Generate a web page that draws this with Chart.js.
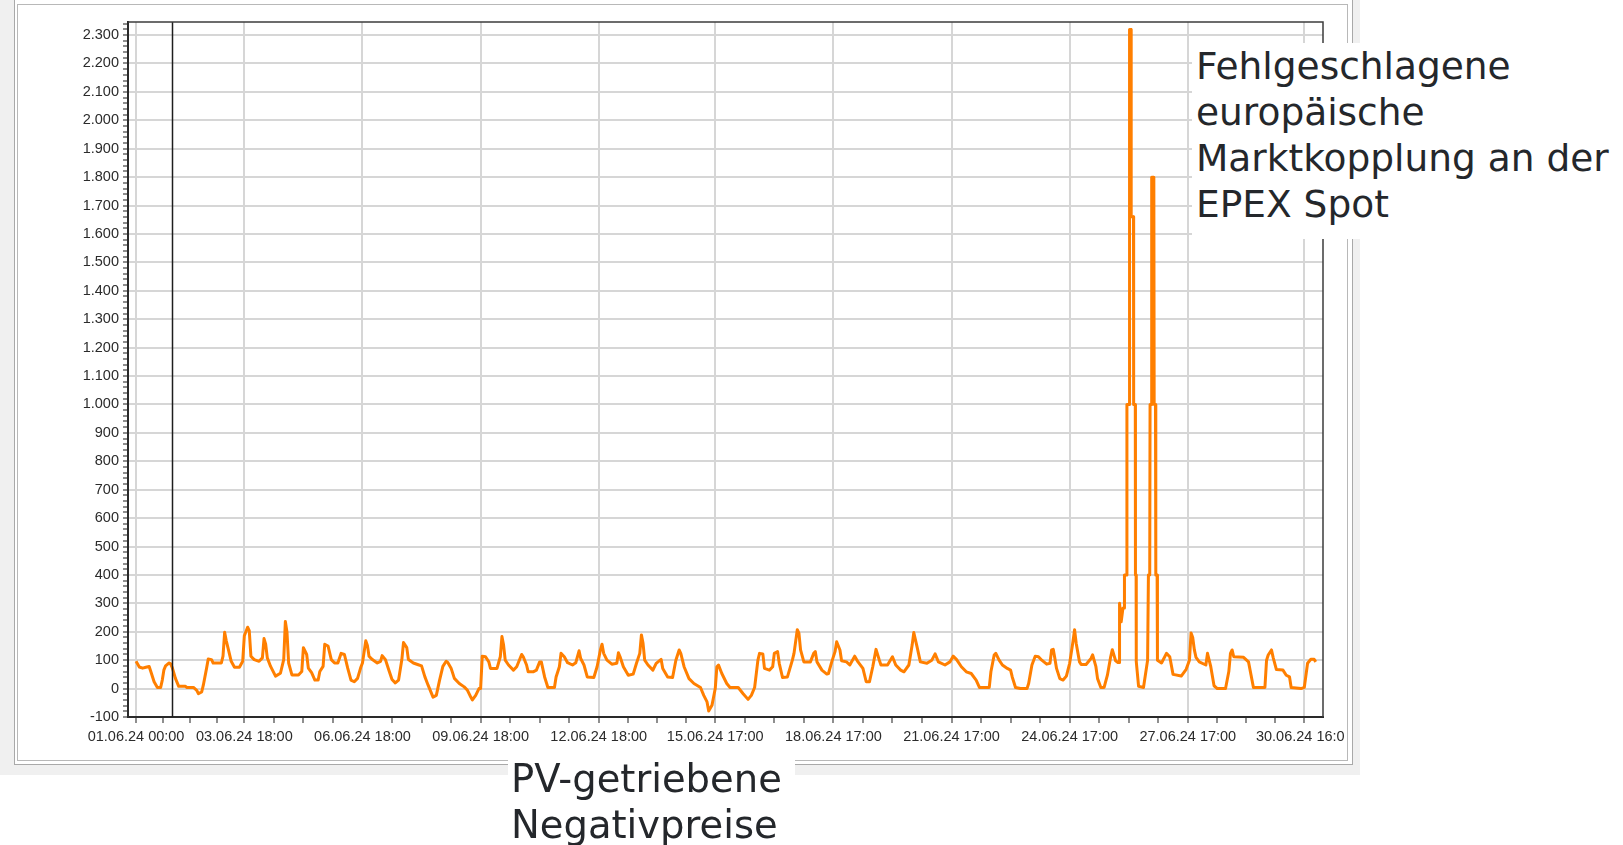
<!DOCTYPE html>
<html>
<head>
<meta charset="utf-8">
<script src="https://cdn.jsdelivr.net/npm/chart.js@4.4.1/dist/chart.umd.min.js"></script>
<style>
  html, body { margin: 0; padding: 0; background: #fff; }
  body { width: 1623px; height: 845px; position: relative; overflow: hidden; }
  .abs { position: absolute; }
  #win { left: 0; top: 0; width: 1360px; height: 775px; background: #f0f0f0; }
  #outer { left: 14px; top: 0; width: 1337px; height: 764px; background: #fff;
           border-left: 1px solid #a9a9a9; border-right: 1px solid #a9a9a9; border-bottom: 1px solid #a9a9a9; }
  #inner { left: 17px; top: 4px; width: 1329px; height: 755px; background: #fff; border: 1px solid #b8b8b8; }
  #c { left: 0; top: 0; }
  .note { background: #fff; color: #24272b; font-family: "DejaVu Sans", sans-serif;
          font-size: 37.5px; line-height: 46px; white-space: nowrap; }
  #noteRight { left: 1192px; top: 43px; width: 431px; height: 196px; }
  #noteRight div { position: absolute; left: 4px; top: 0; }
  #noteBottom { left: 508px; top: 758px; width: 287px; height: 87px; }
  #noteBottom div { position: absolute; left: 3px; top: -2px; font-size: 38.5px; }
</style>
</head>
<body>
<div id="win" class="abs"></div>
<div id="outer" class="abs"></div>
<div id="inner" class="abs"></div>
<canvas id="c" class="abs" width="1344" height="780"></canvas>
<div id="noteRight" class="abs note"><div>Fehlgeschlagene<br>europäische<br>Marktkopplung an der<br>EPEX Spot</div></div>
<div id="noteBottom" class="abs note"><div>PV-getriebene<br>Negativpreise</div></div>
<script>
// Stunden ab 01.06.24 00:00 und Preis (EUR/MWh)
const hours = [
  0, 2, 4, 6, 8, 9, 11, 13, 15, 16, 17, 18, 20, 21, 22, 24, 26, 30, 31, 35,
  37, 38, 40, 41, 43, 44, 46, 47, 52, 53, 54, 55, 56, 58, 60, 63, 65, 66, 68, 69,
  70, 72, 75, 77, 78, 79, 80, 82, 85, 88, 90, 91, 92, 93, 95, 99, 101, 102, 104, 105,
  107, 109, 111, 112, 114, 115, 117, 119, 121, 123, 125, 127, 129, 131, 133, 135, 137, 138, 140, 141,
  142, 144, 147, 149, 150, 152, 154, 156, 158, 160, 162, 163, 165, 166, 169, 172, 174, 176, 178, 181,
  183, 185, 187, 189, 190, 192, 194, 197, 200, 202, 204, 205, 207, 209, 210, 211, 213, 215, 216, 220,
  222, 223, 224, 225, 227, 230, 232, 235, 236, 238, 239, 242, 244, 246, 247, 249, 251, 255, 256, 258,
  259, 261, 263, 266, 268, 270, 271, 273, 275, 279, 281, 283, 284, 285, 287, 290, 293, 294, 295, 297,
  300, 303, 305, 307, 308, 309, 310, 312, 315, 317, 320, 321, 324, 327, 329, 331, 332, 334, 337, 340,
  344, 346, 348, 349, 351, 353, 354, 355, 357, 360, 362, 367, 370, 373, 375, 377, 379, 380, 382, 383,
  386, 388, 389, 391, 392, 394, 397, 400, 401, 403, 404, 405, 407, 411, 413, 414, 415, 418, 421, 422,
  424, 426, 427, 429, 430, 433, 435, 438, 440, 443, 445, 447, 449, 451, 453, 454, 458, 461, 463, 466,
  468, 471, 473, 474, 476, 478, 482, 485, 487, 489, 493, 496, 498, 500, 503, 506, 509, 512, 514, 520,
  521, 523, 524, 526, 528, 531, 533, 534, 536, 539, 543, 544, 546, 548, 550, 552, 555, 557, 558, 559,
  560, 561, 563, 565, 567, 569, 571, 572, 573, 575, 576, 579, 582, 583, 585, 586, 588, 590, 592, 594,
  595, 597, 598.4, 599.2, 599.4, 600.4, 601.5, 602.3, 602.4, 603.8, 603.9, 605.4, 605.5, 606.4, 606.5, 607.9, 608, 609, 609.1, 609.5,
  609.6, 611, 614, 616.5, 617, 617.8, 618, 618.8, 619, 620.3, 620.5, 621.3, 621.5, 622.3, 622.5, 625, 628, 630, 632, 637,
  640, 642, 643, 644, 645, 646, 648, 652, 653, 655, 657, 659, 664, 666, 667, 668, 669, 675, 678, 681,
  688, 689, 690, 692, 693, 695, 699, 701, 703, 704, 710, 712, 714, 716, 718, 719
];
const prices = [
  96, 76, 72, 75, 78, 60, 24, 4, 4, 30, 66, 80, 90, 88, 75, 36, 8, 8, 4, 4,
  -6, -18, -12, 12, 72, 104, 102, 90, 90, 114, 198, 168, 144, 96, 75, 75, 96, 186, 216, 204,
  114, 102, 96, 108, 176, 156, 108, 78, 44, 54, 102, 236, 198, 90, 48, 48, 60, 144, 120, 72,
  56, 30, 30, 60, 78, 156, 150, 102, 90, 90, 124, 120, 72, 30, 24, 36, 75, 90, 168, 152,
  114, 102, 90, 96, 116, 102, 66, 32, 20, 30, 102, 162, 144, 102, 90, 84, 80, 42, 12, -30,
  -24, 30, 78, 96, 92, 72, 36, 18, 6, -6, -30, -40, -24, 0, 0, 114, 112, 94, 71, 71,
  112, 183, 153, 100, 83, 65, 77, 120, 112, 83, 59, 59, 65, 94, 94, 41, 4, 4, 41, 77,
  124, 112, 91, 83, 91, 133, 106, 83, 41, 39, 77, 136, 156, 124, 100, 86, 89, 126, 112, 77,
  47, 51, 89, 124, 189, 159, 100, 83, 65, 89, 103, 71, 41, 39, 100, 136, 124, 77, 35, 18,
  4, -24, -47, -79, -59, 0, 77, 83, 53, 18, 4, 4, -18, -38, -24, 4, 100, 124, 122, 71,
  65, 77, 124, 130, 89, 39, 41, 100, 124, 207, 195, 136, 94, 94, 124, 130, 94, 65, 51, 53,
  94, 130, 165, 136, 98, 94, 83, 114, 94, 71, 24, 24, 77, 138, 100, 83, 83, 112, 83, 65,
  59, 83, 153, 197, 147, 94, 89, 100, 122, 94, 83, 94, 114, 103, 77, 59, 53, 30, 4, 4,
  59, 118, 124, 100, 83, 71, 65, 41, 4, 0, 0, 18, 83, 114, 112, 100, 86, 89, 136, 138,
  106, 71, 35, 30, 44, 89, 165, 207, 159, 94, 85, 85, 106, 119, 77, 35, 4, 4, 47, 112,
  137, 98, 92, 92, 300, 235, 284, 284, 400, 400, 1000, 1000, 2320, 2320, 1661, 1661, 1000, 1000, 400, 400,
  95, 8, 4, 100, 400, 400, 1000, 1000, 1800, 1800, 1000, 1000, 400, 400, 100, 90, 124, 112, 50, 44,
  68, 100, 196, 180, 136, 110, 94, 83, 124, 77, 10, 0, 0, 60, 124, 136, 112, 110, 94, 4,
  4, 100, 118, 136, 110, 67, 65, 47, 41, 4, 0, 4, 89, 103, 103, 94
];

// Achsbeschriftung
const xTickHours = [0, 66, 138, 210, 282, 353, 425, 497, 569, 641, 712];
const xTickLabels = ['01.06.24 00:00', '03.06.24 18:00', '06.06.24 18:00', '09.06.24 18:00',
  '12.06.24 18:00', '15.06.24 17:00', '18.06.24 17:00', '21.06.24 17:00', '24.06.24 17:00',
  '27.06.24 17:00', '30.06.24 16:00'];
const yMin = -100, yMax = 2346, yStep = 100, yMinorStep = 20;
const xMin = -4.9, xMax = 723.4;
const cursorHour = 21.8;

const lineColor = '#ff7f00';
const gridColor = '#d6d6d6';
const axisColor = '#2a2a2a';
const tickFont = { family: 'Liberation Sans, Arial, sans-serif', size: 14.5 };

// Haupt- und Zwischenstriche der x-Achse
const xAllTicks = [];
xTickHours.forEach((h, i) => {
  xAllTicks.push({ value: h, major: true });
  const next = xTickHours[i + 1];
  if (next !== undefined) {
    for (let k = 1; k < 4; k++) xAllTicks.push({ value: h + (next - h) * k / 4, major: false });
  }
});
const yAllTicks = [];
for (let v = yMin; v <= yMax; v += yMinorStep) yAllTicks.push({ value: v, major: v % yStep === 0 });

function fmtDe(v) {
  const a = Math.abs(v);
  const s = a >= 1000 ? Math.floor(a / 1000) + '.' + String(a % 1000).padStart(3, '0') : String(a);
  return (v < 0 ? '-' : '') + s;
}

// Label-Überstand nicht als Platz reservieren (Fenster schneidet ab)
function noPad(s) {
  s.paddingLeft = 0; s.paddingRight = 0; s.paddingTop = 0; s.paddingBottom = 0;
}

const plotFrame = {
  id: 'plotFrame',
  afterDatasetsDraw(chart) {
    const { ctx, chartArea: a, scales } = chart;
    ctx.save();
    // Cursorlinie
    const cx = Math.round(scales.x.getPixelForValue(cursorHour)) + 0.5;
    ctx.strokeStyle = '#1e1e1e';
    ctx.lineWidth = 1.5;
    ctx.beginPath();
    ctx.moveTo(cx, a.top);
    ctx.lineTo(cx, a.bottom);
    ctx.stroke();
    // obere und rechte Rahmenlinie
    ctx.strokeStyle = '#3c3c3c';
    ctx.lineWidth = 1.5;
    ctx.beginPath();
    ctx.moveTo(a.left, a.top);
    ctx.lineTo(a.right, a.top);
    ctx.lineTo(a.right, a.bottom);
    ctx.stroke();
    ctx.restore();
  }
};

new Chart(document.getElementById('c'), {
  type: 'line',
  data: {
    datasets: [{
      label: 'Preis',
      data: hours.map((h, i) => ({ x: h, y: prices[i] })),
      borderColor: lineColor,
      borderWidth: 3,
      borderJoinStyle: 'round',
      pointRadius: 0,
      tension: 0,
      fill: false
    }]
  },
  options: {
    responsive: false,
    devicePixelRatio: 1,
    animation: false,
    layout: { padding: { left: 0, top: 22, right: 21, bottom: 0 } },
    plugins: { legend: { display: false }, tooltip: { enabled: false } },
    scales: {
      x: {
        type: 'linear',
        min: xMin,
        max: xMax,
        afterBuildTicks: s => { s.ticks = xAllTicks.map(t => ({ value: t.value, major: t.major })); },
        afterFit: s => { s.height = 63; noPad(s); },
        ticks: {
          autoSkip: false,
          maxRotation: 0,
          padding: 5,
          color: '#2b2b2b',
          font: tickFont,
          callback: v => {
            const i = xTickHours.indexOf(v);
            return i >= 0 ? xTickLabels[i] : '';
          }
        },
        grid: {
          color: c => (c.tick && xTickHours.indexOf(c.tick.value) >= 0 ? gridColor : 'rgba(0,0,0,0)'),
          lineWidth: 2,
          tickColor: '#444',
          tickWidth: 1.2,
          tickLength: 6
        },
        border: { color: axisColor, width: 2 }
      },
      y: {
        min: yMin,
        max: yMax,
        afterBuildTicks: s => { s.ticks = yAllTicks.map(t => ({ value: t.value, major: t.major })); },
        afterFit: s => { s.width = 128; noPad(s); },
        ticks: {
          autoSkip: false,
          padding: 4,
          color: '#2b2b2b',
          font: tickFont,
          callback: v => (v % yStep === 0 ? fmtDe(v) : '')
        },
        grid: {
          color: c => (c.tick && c.tick.value % yStep === 0 ? gridColor : 'rgba(0,0,0,0)'),
          lineWidth: 2,
          tickColor: '#444',
          tickWidth: 1.2,
          tickLength: 5
        },
        border: { color: axisColor, width: 2 }
      }
    }
  },
  plugins: [plotFrame]
});
</script>
</body>
</html>
